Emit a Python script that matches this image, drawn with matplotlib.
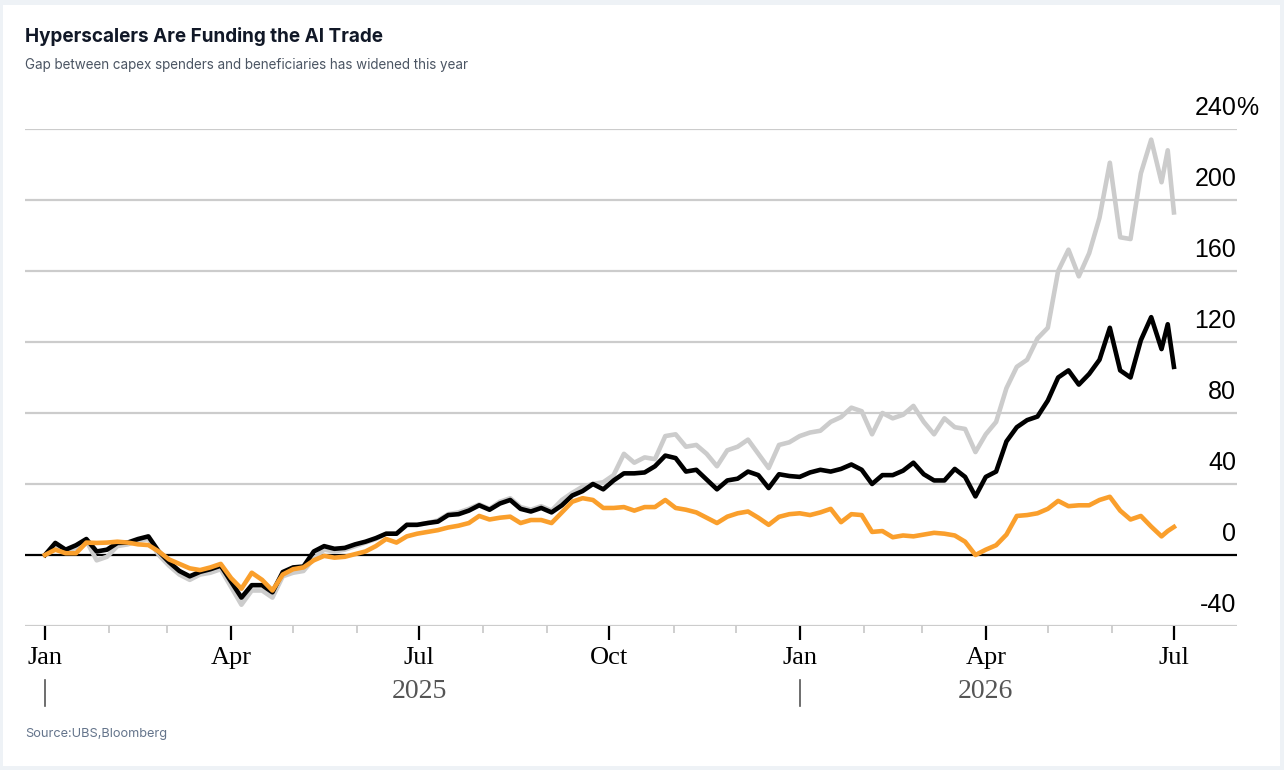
import matplotlib.pyplot as plt
import matplotlib.dates as mdates
import matplotlib.transforms as mtransforms
from matplotlib.patches import Rectangle
import pandas as pd

plt.rcParams['font.family'] = ['Liberation Sans', 'DejaVu Sans']

# data: cumulative return in %, one value every 5 days (plus two at the very end)
dates = list(pd.date_range("2025-01-01", periods=109, freq="5D")) + \
    [pd.Timestamp("2026-06-28"), pd.Timestamp("2026-07-01")]

black = [0, 6.8, 3, 5.5, 9, 2, 3, 6.8, 7, 9,
         10.5, 2, -4, -9, -12, -9.5, -8, -6, -15, -24,
         -17, -17, -21, -9.6, -7, -6.5, 2, 5, 3.5, 4,
         6, 7.5, 9.5, 12, 12, 17, 17, 18, 18.8, 22.5,
         23, 25, 28, 25.5, 29, 31, 26, 24.5, 26.5, 24,
         28, 33.5, 36, 40, 37, 42, 46, 46, 46.5, 50,
         56, 54.6, 47, 48, 42.5, 37, 42, 43, 47, 45,
         37.7, 45.5, 44.5, 44, 46.5, 48, 47, 48.5, 51, 48,
         40, 45, 45, 47.5, 52, 45.5, 42, 42, 48.5, 44,
         33, 44, 47, 64, 72, 76, 78, 87, 100, 104,
         96, 102, 110, 128, 104, 100, 121, 134, 116, 130, 106]

orange = [0, 3, 1, 1, 7, 6.8, 7, 7.5, 7, 6,
          5.6, 2, -2.5, -5, -7.5, -8.5, -7, -5, -13, -19,
          -10, -14, -20, -11, -8, -7, -3, -0.5, -1.5, -1,
          0.5, 2, 5, 9, 7, 10.5, 12, 13, 14, 15.5,
          16.5, 18, 22, 20, 21, 21.6, 18, 19.7, 19.7, 18,
          24, 30, 32, 31, 26.5, 26.5, 27, 25, 27, 27,
          31, 26.5, 25.5, 24, 21, 18, 21.6, 23.5, 24.5, 21,
          17, 21.5, 23, 23.5, 22.5, 24, 26, 18.5, 23, 22.5,
          13, 13.5, 10, 11, 10.5, 11.5, 12.5, 12, 11, 7.5,
          0, 3, 5.5, 11.5, 22, 22.5, 23.5, 26, 30.5, 27.5,
          28, 28, 31, 32.8, 25, 20, 22, 16, 10.5, 13.5, 15.8]

gray = [0, 5, 2, 4, 8, -3, -1, 5, 6, 8,
        9, 0, -6, -11, -14, -11, -10, -8, -18, -28,
        -20, -20, -24, -12, -10, -9, -2, 3, 2, 3,
        5, 7, 9, 12, 12, 17, 17, 18, 19.5, 23,
        24, 26, 28.5, 26, 30, 32, 27, 25.5, 27.5, 25,
        31, 35, 38.5, 40, 41, 45, 57, 52, 55, 54,
        67, 68, 61, 62, 57, 50, 59, 61, 65, 57,
        49, 62, 63.5, 67, 69, 70, 75, 77.7, 83, 81,
        68, 80, 77, 79, 84, 75, 68, 77, 72, 71,
        58, 68, 75, 94, 106, 110, 122, 128, 160, 172,
        157, 170, 190, 221, 179, 178, 215, 234, 210, 228, 193]

y_ticks = [-40, 0, 40, 80, 120, 160, 200, 240]

W, H = 1284, 770
fig = plt.figure(figsize=(W / 100, H / 100), dpi=100)
fig.patch.set_facecolor('#eef2f6')
fig.add_artist(Rectangle((3 / W, 4 / H), 1277 / W, 761 / H, transform=fig.transFigure,
                         facecolor='white', edgecolor='none', zorder=-5))

ax = fig.add_axes([25 / W, 1 - 626 / H, 1212 / W, 497 / H])
ax.set_facecolor('none')
ax.set_ylim(-40, 240)
ax.set_xlim(pd.Timestamp('2024-12-22 08:00'), pd.Timestamp('2026-07-31 12:00'))

for s in ax.spines.values():
    s.set_visible(False)

# grid
for v in y_ticks:
    if v == 0:
        ax.axhline(v, color='black', lw=1.6, zorder=1)
    else:
        ax.axhline(v, color='#cccccc', lw=1.6, zorder=0)

# lines
ax.plot(dates, gray, color='#cccccc', lw=3.3, zorder=2)
ax.plot(dates, black, color='black', lw=3.3, zorder=3)
ax.plot(dates, orange, color='#fa9f2c', lw=3.3, zorder=4)

# y labels above the gridlines, on the right
ax.yaxis.set_visible(False)
for v in y_ticks:
    ax.annotate(str(v), xy=(1, v), xycoords=('axes fraction', 'data'),
                xytext=(-0.5, 10), textcoords='offset points',
                ha='right', va='baseline', fontsize=18, color='black')
ax.annotate('%', xy=(1, 240), xycoords=('axes fraction', 'data'),
            xytext=(-0.5, 10), textcoords='offset points',
            ha='left', va='baseline', fontsize=18, color='black')

# x axis
ax.xaxis.set_major_locator(mdates.MonthLocator(bymonth=[1, 4, 7, 10]))
ax.xaxis.set_minor_locator(mdates.MonthLocator())
ax.xaxis.set_major_formatter(mdates.DateFormatter('%b'))
ax.tick_params(axis='x', which='major', length=10, width=1.6, color='black',
               labelsize=19, pad=5, labelfontfamily='Liberation Serif')
ax.tick_params(axis='x', which='minor', length=5, width=1.3, color='#cccccc')

trans = mtransforms.blended_transform_factory(ax.transData, ax.transAxes)
for yr, mid in [('2025', '2025-07-01'), ('2026', '2026-04-01')]:
    ax.text(pd.Timestamp(mid), (626 - 691) / 497, yr, transform=trans,
            ha='center', va='center', fontsize=20, color='#555555',
            family='Liberation Serif')
for start in ['2025-01-01', '2026-01-01']:
    ax.plot([pd.Timestamp(start)] * 2, [(626 - 680) / 497, (626 - 706) / 497],
            transform=trans, color='#555555', lw=1.2, clip_on=False)

# titles
fig.text(25 / W, 1 - 36 / H, 'Hyperscalers Are Funding the AI Trade', fontsize=13.6,
         weight='bold', color='#111827', family='Inter', va='center')
fig.text(25 / W, 1 - 65 / H, 'Gap between capex spenders and beneficiaries has widened this year',
         fontsize=9.7, color='#4b5563', family='Inter', va='center')
fig.text(25 / W, 1 - 734 / H, 'Source:UBS,Bloomberg', fontsize=9.2, color='#64748b',
         family='Inter', va='center')

fig.savefig('out.png', dpi=100)
